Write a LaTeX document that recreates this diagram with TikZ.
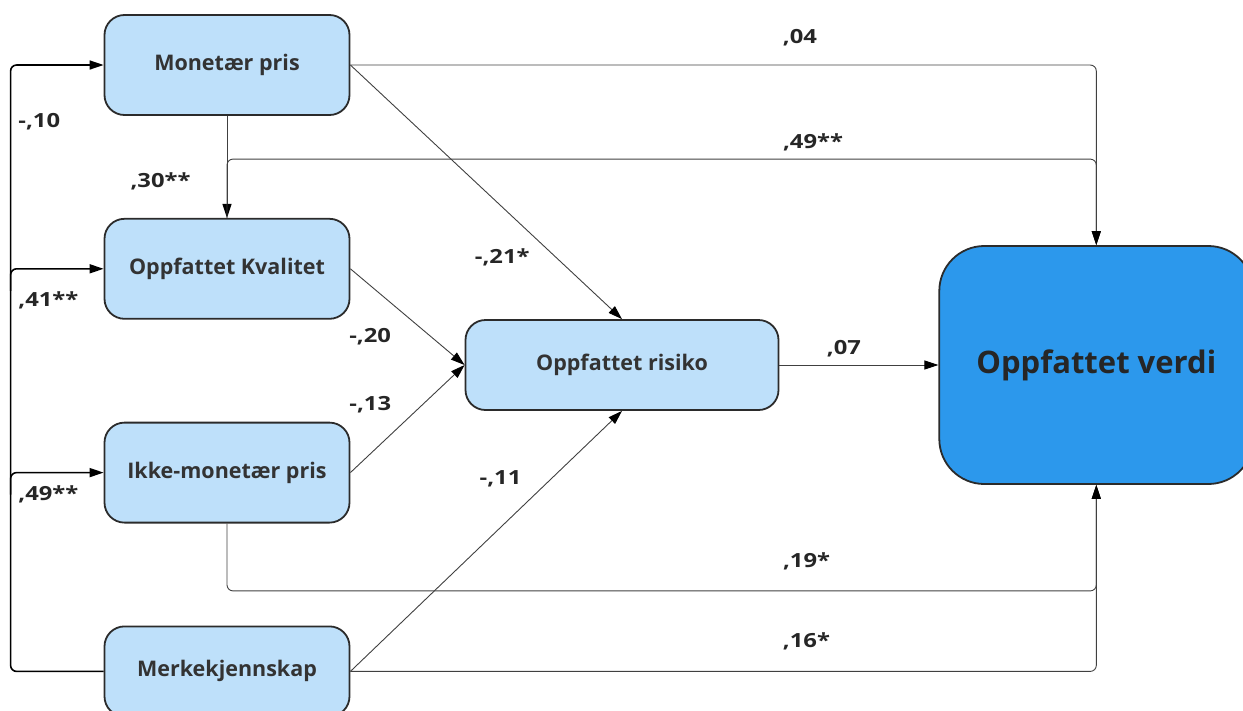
\documentclass[tikz,border=0pt]{standalone}
\usepackage{fontspec}
\setmainfont{Open Sans}
\newfontfamily\coeffont[FakeStretch=1.22]{Open Sans}
\usepackage{xcolor}
\usetikzlibrary{positioning, arrows.meta, calc}

\definecolor{boxblue}{HTML}{BEE0FA}
\definecolor{mainblue}{HTML}{2C98EC}
\definecolor{edgegray}{HTML}{2B2B2B}
\definecolor{txtgray}{HTML}{333333}

\begin{document}
\begin{tikzpicture}[
  x=1pt, y=-1pt,
  factor/.style={rectangle, rounded corners=20pt, draw=edgegray, line width=1.8pt, fill=boxblue, minimum width=245pt, minimum height=100pt, text=txtgray},
  outcome/.style={factor, fill=mainblue, rounded corners=45pt, minimum width=314pt, minimum height=238pt, text=black!85, font=\fontsize{31}{36}\selectfont\bfseries},
  link/.style={draw=black!75, line width=0.9pt, rounded corners=6pt, -{Triangle[length=14pt, width=9pt, color=black]}},
  rail/.style={link, draw=black, line width=1.6pt},
  coef/.style={text=black!85, inner sep=1pt, font=\coeffont\fontsize{19.5}{22}\selectfont\bfseries},
  every node/.style={font=\fontsize{21.5}{25}\selectfont\bfseries}
]
\useasboundingbox (0,0) rectangle (1243,710);
\clip (0,0) rectangle (1243,710);

% === BOKSER ===
\node[factor] (monetaer) at (227,65) {Monetær pris};
\node[factor, below=102pt of monetaer] (kvalitet) {Oppfattet Kvalitet};
\node[factor, below=102pt of kvalitet] (ikke) {Ikke-monetær pris};
\node[factor, below=102pt of ikke, minimum height=90pt] (merke) {Merkekjennskap};
\node[factor, minimum width=313pt, minimum height=90pt] (risiko) at (622,365) {Oppfattet risiko};
\node[outcome, right=159pt of risiko] (verdi) {Oppfattet verdi};

% === HJELPEPUNKTER ===
\coordinate (rail) at ($(merke.west)+(-93,0)$);
\coordinate (hi) at ($(verdi.north)+(0,-86)$);
\coordinate (lo) at ($(verdi.south)+(0,106)$);

% === VENSTRE SKINNE ===
\draw[rail] (merke.west) -- (rail) |- node[coef, pos=.453, right=6pt]{-,10}
  node[coef, pos=.306, right=6pt]{,41**}
  node[coef, pos=.146, right=6pt]{,49**} (monetaer.west);
\draw[rail] ($(rail |- kvalitet.west)+(0,22)$) |- (kvalitet.west);
\draw[rail] ($(rail |- ikke.west)+(0,22)$) |- (ikke.west);

% === PILER MOT RISIKO ===
\draw[link] (monetaer) -- node[coef, pos=.64, left=35pt]{,30**} (kvalitet);
\draw[link] (monetaer.east) -- node[coef, pos=.757, left=25pt]{-,21*} (risiko.north);
\draw[link] (kvalitet.east) -- node[coef, pos=.71, left=39pt]{-,20} (risiko.west);
\draw[link] (ikke.east) -- node[coef, pos=.632, left=30pt]{-,13} (risiko.west);
\draw[link] (merke.east) -- node[coef, pos=.738, left=28pt]{-,11} (risiko.south);

% === PILER MOT VERDI ===
\draw[link] (monetaer.east) -| node[coef, pos=.289, anchor=west, yshift=27pt]{,04} (verdi.north);
\draw[link] (kvalitet.north) |- node[coef, pos=.819, anchor=west, yshift=17pt]{,49**} (hi) -- (verdi.north);
\draw[link] (risiko) -- node[coef, pos=.29, anchor=west, yshift=16pt]{,07} (verdi);
\draw[link] (ikke.south) |- node[coef, pos=.819, anchor=west, yshift=30pt]{,19*} (lo) -- (verdi.south);
\draw[link] (merke.east) -| node[coef, pos=.289, anchor=west, yshift=30pt]{,16*} (verdi.south);

\end{tikzpicture}
\end{document}
